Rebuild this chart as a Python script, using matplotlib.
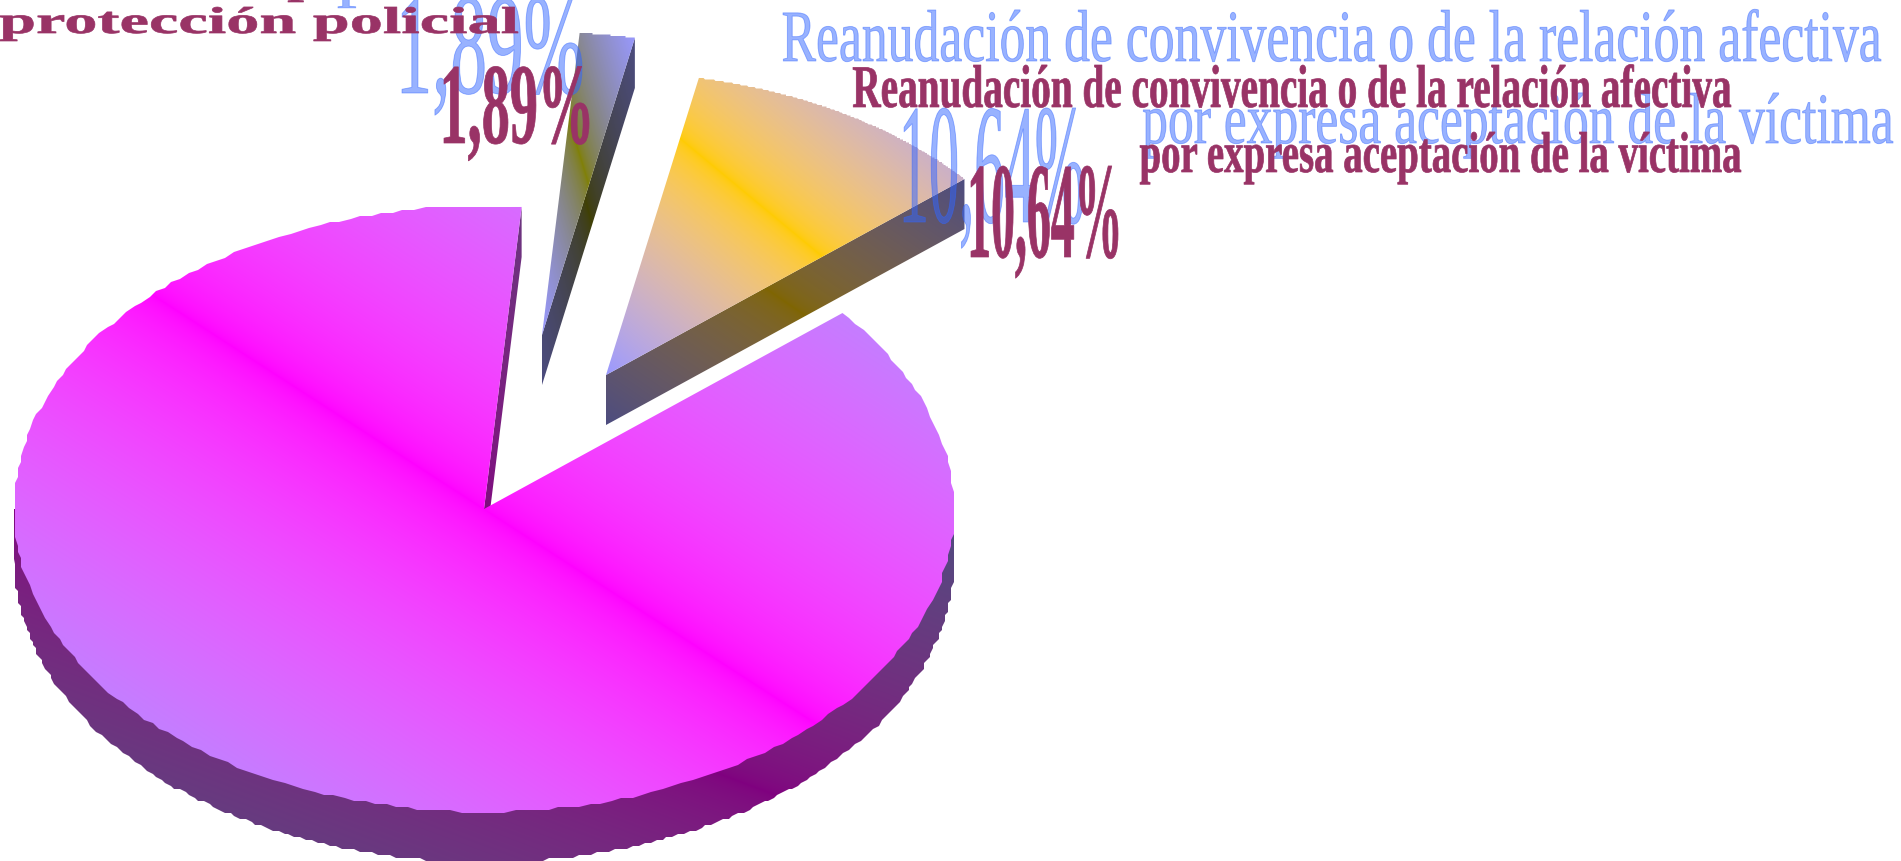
"""
Exploded 3D pie with diagonal gradients, redrawn in pixel coordinates
"""

import matplotlib
matplotlib.use("Agg")
import numpy as np
import matplotlib.pyplot as plt
from matplotlib.font_manager import FontProperties
from matplotlib.patches import Polygon
from matplotlib.patheffects import AbstractPathEffect
from matplotlib.textpath import TextPath
from matplotlib.transforms import Affine2D

# slices, counterclockwise from the right edge of the pie
values = [10.64, 1.89, 87.47]
peak_colors = ["#FFCC00", "#808000", "#FF00FF"]
edge_color = "#9999FF"

label_lines = [
    "Reanudación de convivencia o de la relación afectiva",
    "por expresa aceptación de la víctima",
    "protección policial",
    "p",
]
value_labels = ["10,64%", "1,89%"]

W, H = 1901, 861
CX, CY, RX, RY = 484, 509, 470, 303
DEPTH = 50
START = 40.3
OFFSETS = [(122, -134), (58, -174), (0, 0)]

MAROON = "#993366"
BLUE = "#3366FF"


class StretchX(AbstractPathEffect):
    """Stretch a text horizontally about its anchor, with an optional outline."""

    def __init__(self, sx, stroke=0.0):
        super().__init__()
        self.sx = sx
        self.stroke = stroke

    def draw_path(self, renderer, gc, tpath, affine, rgbFace=None):
        x0 = affine.get_matrix()[0, 2]
        stretched = affine + Affine2D().translate(-x0, 0).scale(self.sx, 1).translate(x0, 0)
        gc0 = renderer.new_gc()
        gc0.copy_properties(gc)
        gc0.set_linewidth(self.stroke)
        renderer.draw_path(gc0, tpath, stretched, rgbFace)
        gc0.restore()


def rgb(color, factor=1.0):
    return np.array(matplotlib.colors.to_rgb(color)) * factor


def gradient(ax, verts, box, peak, edge, zorder):
    """Axial gradient: peak along the box diagonal, edge colour in the other corners."""
    x0, y0, x1, y1 = box
    u, v = np.meshgrid(np.linspace(0, 1, 500), np.linspace(0, 1, 500))
    t = (np.abs(u - v) ** 1.25)[..., None]
    # the original blends in linear light, so the midtones stay bright
    img = (peak ** 2.2 * (1 - t) + edge ** 2.2 * t) ** (1 / 2.2)
    im = ax.imshow(img, extent=(x0, x1, y1, y0), origin="upper", aspect="auto",
                   interpolation="bilinear", zorder=zorder)
    patch = Polygon(verts, closed=True, transform=ax.transData, fc="none", ec="none")
    ax.add_patch(patch)
    im.set_clip_path(patch)


def extents(verts):
    verts = np.asarray(verts)
    return verts[:, 0].min(), verts[:, 1].min(), verts[:, 0].max(), verts[:, 1].max()


def arc(a0, a1, dx, dy, step, n=240):
    # the outline of the original is coarse, it steps by a few px
    ang = np.radians(np.linspace(a0, a1, n))
    pts = np.column_stack([CX + dx + RX * np.cos(ang), CY + dy - RY * np.sin(ang)])
    pts[1:-1] = np.round(pts[1:-1] / step) * step
    return pts


def draw_slice(ax, a0, a1, offset, peak_name, z):
    dx, dy = offset
    is_main = offset == (0, 0)
    step = 3 if is_main else 1.5
    peak = rgb(peak_name)
    edge = rgb(edge_color)
    apex = np.array([CX + dx, CY + dy])
    rim = arc(a0, a1, dx, dy, step)
    top = np.vstack([apex, rim])
    down = np.array([0, DEPTH])
    wall = np.array([apex, rim[0], rim[0] + down, apex + down])
    wall_box = extents(wall)

    if is_main:
        # curved front, the top surface hides everything above the lower rim
        front = arc(180, 360, dx, dy + DEPTH, step)
        verts = np.vstack([front, [[CX + RX, CY], [CX - RX, CY]]])
        gradient(ax, verts, (CX - RX, CY, CX + RX, CY + RY + DEPTH),
                 peak * 0.5, edge * 0.5, z)
        box = extents(top)
        wall_box = (box[0], box[1], box[2], box[3] + DEPTH)
    gradient(ax, wall, wall_box, peak * 0.5, edge * 0.5, z + 1)
    gradient(ax, top, extents(top), peak, edge, z + 2)


def stretched_text(ax, s, x0, x1, base, top, color, weight="normal", alpha=None, stroke=0.0, z=20):
    """Real text whose ink spans x0..x1, with its tall letters reaching from base to top."""
    fp = FontProperties(family="Liberation Serif", weight=weight)
    ext = TextPath((0, 0), s, size=1, prop=fp).get_extents()
    ref = TextPath((0, 0), "l", size=1, prop=fp).get_extents()
    size_px = (base - top) / ref.y1
    sx = (x1 - x0) / (ext.width * size_px)
    x = x0 - ext.x0 * size_px * sx
    ax.text(x, base, s, fontproperties=fp, fontsize=size_px * 72 / 100, color=color,
            alpha=alpha, ha="left", va="baseline", zorder=z,
            path_effects=[StretchX(sx, stroke)])


def main() -> None:
    fig = plt.figure(figsize=(W / 100, H / 100), dpi=100, facecolor="white")
    ax = fig.add_axes([0, 0, 1, 1])

    angles = START + np.cumsum([0] + values) * 3.6
    for i, value in enumerate(values):
        draw_slice(ax, angles[i], angles[i + 1], OFFSETS[i], peak_colors[i], 2 + 3 * i)

    ax.set_xlim(0, W)
    ax.set_ylim(H, 0)
    ax.axis("off")

    shadow = dict(color=BLUE, alpha=0.5, stroke=0.6, z=20)
    stretched_text(ax, label_lines[0], 783, 1881, 61, 10, **shadow)
    stretched_text(ax, label_lines[1], 1143, 1893, 143, 93, **shadow)
    stretched_text(ax, value_labels[0], 904, 1083, 222, 103, **shadow)
    stretched_text(ax, value_labels[1], 402, 582, 93, -7, **shadow)
    stretched_text(ax, label_lines[3], 338, 374, -2, -34, **shadow)

    solid = dict(color=MAROON, weight="bold", stroke=0.5, z=21)
    stretched_text(ax, label_lines[0], 853, 1731, 107, 65, **solid)
    stretched_text(ax, label_lines[1], 1140, 1741, 172, 132, **solid)
    stretched_text(ax, value_labels[0], 971, 1118, 257, 162, **solid)
    stretched_text(ax, value_labels[1], 444, 589, 143, 63, **solid)
    stretched_text(ax, label_lines[2], 0, 518, 33, 7, **solid)
    stretched_text(ax, label_lines[3], 288, 318, -6, -32, **solid)

    fig.savefig("out.png", dpi=100)


if __name__ == "__main__":
    main()
